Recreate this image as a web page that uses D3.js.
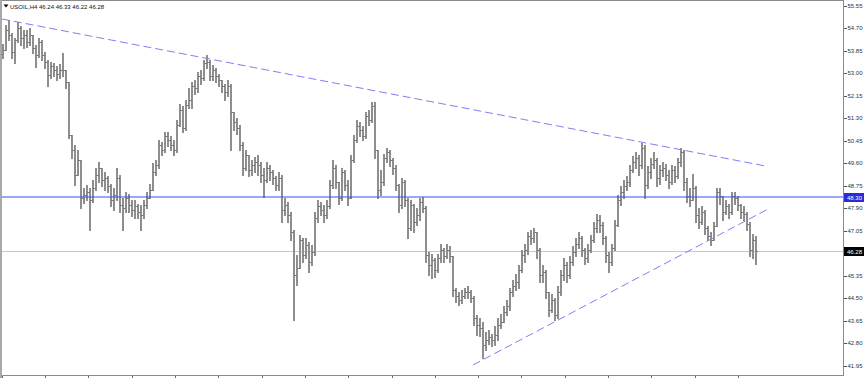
<!DOCTYPE html>
<html>
<head>
<meta charset="utf-8">
<script src="https://cdn.jsdelivr.net/npm/d3@7"></script>
<style>
  html, body { margin: 0; padding: 0; background: #fff; overflow: hidden; }
</style>
</head>
<body>
<div id="vis-display"></div>
<script>
// USOIL H4 bar chart, MetaTrader look: OHLC bars, trend lines, 48.30 level.

const SYMBOL    = "USOIL,H4";
const LAST_OHLC = [46.24, 46.33, 46.22, 46.28];

const PRICE_TICKS = [55.55, 54.70, 53.85, 53.00, 52.15, 51.30, 50.45, 49.60, 48.75,
                     47.90, 47.05, 46.20, 45.35, 44.50, 43.65, 42.80, 41.95];

// bar index of each time-axis tick (labels fall below the visible area)
const TIME_TICKS = [-0.33, 14, 28.33, 43, 57.33, 71.67, 86.33, 100.67, 115, 129.67,
                    144, 158.33, 172.67, 187.33, 201.67, 216, 230.67, 245];

const FIRST_OPEN = 53.70;

const CLOSE = [
  53.87, 54.62, 54.44, 53.79, 54.25, 54.70, 54.32, 54.44, 54.17, 54.44,
  53.95, 53.68, 54.17, 53.68, 53.42, 52.92, 53.26, 53.11, 52.96, 53.11,
  53.11, 52.66, 50.66, 50.09, 49.15, 49.71, 48.28, 48.39, 48.50, 48.20,
  48.66, 49.15, 49.41, 48.96, 49.03, 48.73, 48.20, 48.39, 49.03, 48.01,
  47.90, 48.28, 48.01, 47.83, 47.98, 47.75, 47.63, 48.01, 48.28, 48.58,
  49.26, 49.52, 50.28, 50.09, 50.62, 50.47, 50.28, 50.09, 51.04, 51.60,
  50.92, 51.79, 51.98, 52.51, 52.43, 52.89, 52.81, 53.38, 53.42, 52.89,
  53.11, 52.89, 52.74, 52.51, 52.28, 52.51, 51.53, 51.15, 50.92, 50.28,
  49.41, 49.90, 49.34, 49.52, 49.64, 49.52, 49.15, 48.96, 49.41, 49.26,
  49.03, 48.77, 49.03, 47.83, 48.01, 47.63, 46.99, 45.37, 45.63, 46.69,
  46.12, 46.50, 45.86, 46.24, 47.52, 47.98, 47.83, 47.63, 47.98, 48.77,
  49.41, 48.88, 48.28, 49.26, 48.77, 48.28, 49.71, 50.47, 51.00, 50.85,
  50.62, 51.38, 51.22, 51.75, 50.09, 48.58, 48.88, 49.79, 50.02, 49.71,
  49.41, 48.77, 48.01, 48.88, 48.20, 47.14, 48.01, 47.37, 47.63, 48.13,
  47.90, 46.12, 45.75, 45.94, 45.56, 46.01, 46.31, 46.09, 46.31, 46.09,
  44.80, 44.58, 44.42, 44.58, 44.73, 44.73, 44.50, 43.75, 43.48, 43.37,
  42.72, 42.91, 43.03, 42.91, 43.10, 43.48, 43.59, 43.97, 44.20, 44.73,
  44.95, 45.10, 45.56, 46.12, 46.31, 46.84, 46.77, 46.99, 46.31, 45.37,
  45.48, 44.73, 44.05, 44.42, 43.86, 44.73, 45.37, 45.75, 45.37, 45.86,
  46.24, 46.54, 46.77, 46.31, 46.01, 46.31, 46.69, 47.14, 47.45, 47.26,
  46.77, 46.12, 45.86, 46.39, 47.26, 48.20, 48.50, 48.73, 48.88, 49.34,
  49.64, 49.79, 49.52, 50.17, 48.77, 49.26, 49.56, 49.71, 49.03, 49.34,
  49.41, 49.15, 48.88, 49.34, 49.11, 49.64, 50.02, 48.88, 48.35, 48.20,
  48.66, 47.63, 47.37, 47.75, 47.14, 46.84, 46.69, 47.22, 48.50, 48.35,
  47.75, 47.98, 47.75, 48.35, 48.28, 48.01, 47.75, 47.67, 47.30, 46.31,
  46.69, 46.28
];

const HIGH = [
  54.10, 54.81, 55.00, 54.51, 54.32, 54.93, 54.78, 54.62, 54.62, 54.70,
  54.44, 54.06, 54.32, 54.25, 53.79, 53.49, 53.42, 53.38, 53.26, 53.34,
  53.76, 53.04, 52.59, 50.58, 50.28, 50.09, 49.52, 48.66, 48.77, 48.66,
  48.96, 49.41, 49.64, 49.34, 49.26, 49.11, 48.81, 48.66, 49.41, 49.15,
  48.28, 48.50, 48.43, 48.20, 48.20, 48.05, 48.01, 48.20, 48.50, 48.81,
  49.60, 49.71, 50.47, 50.39, 50.77, 50.77, 50.62, 50.47, 51.22, 51.83,
  51.75, 51.98, 52.43, 52.66, 52.74, 53.04, 53.11, 53.49, 53.68, 53.49,
  53.30, 53.19, 52.96, 52.74, 52.59, 52.74, 52.59, 51.41, 51.30, 51.04,
  50.39, 50.09, 49.90, 49.71, 49.83, 49.90, 49.64, 49.41, 49.64, 49.52,
  49.34, 49.11, 49.26, 49.15, 48.28, 48.13, 47.75, 47.07, 46.12, 46.88,
  46.77, 46.77, 46.62, 46.50, 47.75, 48.20, 48.13, 48.01, 48.20, 48.96,
  49.71, 49.52, 48.88, 49.41, 49.34, 48.96, 49.90, 50.66, 51.22, 51.15,
  51.00, 51.53, 51.60, 51.90, 51.90, 50.09, 49.34, 49.94, 50.17, 50.09,
  49.79, 49.52, 48.81, 49.03, 48.96, 48.28, 48.20, 48.05, 47.90, 48.28,
  48.31, 47.98, 46.24, 46.16, 46.01, 46.16, 46.54, 46.39, 46.54, 46.46,
  46.01, 44.88, 44.73, 44.80, 44.88, 44.95, 44.80, 44.58, 43.86, 43.75,
  43.59, 43.22, 43.29, 43.14, 43.44, 43.75, 43.89, 44.20, 44.42, 44.88,
  45.18, 45.41, 45.75, 46.31, 46.54, 46.99, 47.07, 47.14, 46.99, 46.39,
  45.75, 45.56, 44.73, 44.65, 44.50, 44.95, 45.56, 46.01, 45.86, 46.09,
  46.46, 46.77, 46.99, 46.84, 46.39, 46.54, 46.88, 47.37, 47.67, 47.63,
  47.37, 46.84, 46.24, 46.54, 47.45, 48.39, 48.73, 48.96, 49.11, 49.52,
  49.86, 50.02, 49.90, 50.36, 50.28, 49.49, 49.79, 50.02, 49.79, 49.52,
  49.64, 49.56, 49.34, 49.52, 49.49, 49.79, 50.17, 50.09, 49.03, 48.66,
  49.18, 48.73, 47.90, 47.98, 47.83, 47.22, 46.99, 47.37, 48.66, 48.66,
  48.28, 48.20, 48.05, 48.50, 48.50, 48.35, 48.05, 47.98, 47.75, 47.37,
  46.92, 46.84
];

const LOW = [
  53.57, 53.95, 54.25, 53.57, 53.38, 54.17, 54.06, 53.95, 53.98, 54.06,
  53.76, 53.23, 53.60, 53.49, 53.19, 52.51, 52.81, 52.89, 52.74, 52.81,
  52.89, 52.43, 50.54, 49.79, 48.77, 49.26, 47.90, 48.09, 48.20, 47.07,
  48.13, 48.58, 48.88, 48.73, 48.58, 48.50, 47.98, 47.83, 48.20, 47.75,
  47.07, 47.75, 47.75, 47.60, 47.52, 47.52, 47.07, 47.52, 47.90, 48.28,
  48.58, 49.15, 49.41, 49.90, 50.02, 50.24, 50.09, 49.90, 50.02, 51.00,
  50.77, 50.85, 51.68, 51.68, 52.21, 52.28, 52.59, 52.74, 53.19, 52.74,
  52.74, 52.66, 52.51, 52.28, 51.98, 52.13, 50.09, 50.85, 50.70, 50.09,
  49.15, 49.34, 49.11, 49.15, 49.26, 49.15, 48.88, 48.31, 48.88, 48.96,
  48.81, 48.58, 48.58, 47.37, 47.63, 47.37, 46.69, 43.67, 44.99, 45.63,
  45.86, 46.01, 45.48, 45.75, 46.12, 47.37, 47.63, 47.37, 47.52, 47.90,
  48.66, 48.66, 48.05, 48.20, 48.58, 48.01, 48.28, 49.64, 50.39, 50.62,
  50.47, 50.54, 51.04, 51.15, 49.79, 48.28, 48.39, 48.77, 49.64, 49.49,
  49.18, 48.58, 47.75, 47.90, 47.98, 46.77, 47.07, 46.99, 47.26, 47.45,
  47.75, 45.86, 45.37, 45.26, 45.29, 45.48, 45.86, 45.86, 46.01, 45.86,
  44.58, 44.35, 44.24, 44.31, 44.50, 44.50, 44.35, 43.48, 43.10, 43.06,
  42.23, 42.53, 42.76, 42.69, 42.72, 42.91, 43.37, 43.67, 43.86, 44.05,
  44.58, 44.80, 44.88, 45.48, 45.86, 46.16, 46.54, 46.62, 46.01, 45.10,
  45.10, 44.50, 43.82, 43.97, 43.67, 43.75, 44.61, 45.18, 45.10, 45.26,
  45.75, 46.09, 46.39, 46.09, 45.78, 45.86, 46.24, 46.62, 46.99, 46.99,
  46.54, 45.86, 45.48, 45.75, 46.31, 47.22, 48.01, 48.28, 48.58, 48.73,
  49.26, 49.41, 49.15, 49.41, 48.28, 48.66, 49.03, 49.41, 48.73, 48.81,
  49.11, 48.96, 48.66, 48.81, 48.88, 49.03, 49.49, 48.58, 48.13, 47.98,
  48.35, 47.37, 47.14, 47.30, 46.92, 46.69, 46.50, 46.69, 47.22, 48.05,
  47.45, 47.67, 47.52, 47.67, 48.05, 47.83, 47.52, 47.45, 47.07, 46.09,
  46.01, 45.78
];

const LEVEL_PRICE = 48.30;
// trend lines as [bar index, price] anchors
const UPPER_TREND = [[-0.33, 55.04], [254, 49.49]];
const LOWER_TREND = [[156.67, 41.97], [255.67, 47.90]];

const W = 865, H = 378;
const plot = { left: 2, right: 843, top: 0, bottom: 375 };

const BAR_COLOR   = "#8e8e8e";
const TICK_COLOR  = "#7a7a7a";
const LEVEL_COLOR = "#3550f2";
const TREND_COLOR = "#7f7ff2";
const FONT = "'Liberation Sans', Arial, sans-serif";

const N = CLOSE.length;
const bars = CLOSE.map((c, i) => {
  const o = i ? CLOSE[i - 1] : FIRST_OPEN;
  return { i, o, c, h: Math.max(HIGH[i], o, c), l: Math.min(LOW[i], o, c) };
});

const x = d3.scaleLinear().domain([0, N - 1]).range([3, 3 + 3 * (N - 1)]);
const y = d3.scaleLinear().domain([41.95, 55.55]).range([365.5, 5.5]);

const svg = d3.select("#vis-display").append("svg")
  .attr("width", W)
  .attr("height", H)
  .style("display", "block")
  .style("font-family", FONT);

// ── Frame ─────────────────────────────────────────────────────────────────

svg.append("rect")
  .attr("x", 0).attr("y", 0).attr("width", 2).attr("height", H)
  .attr("fill", "#a9a9a9");

svg.append("path")
  .attr("d", `M${plot.left},${plot.top + 0.5}H${plot.right + 0.5}V${plot.bottom + 0.5}H${plot.left}`)
  .attr("fill", "none")
  .attr("stroke", "#8a8a8a")
  .attr("shape-rendering", "crispEdges");

// ── Axes ──────────────────────────────────────────────────────────────────

svg.append("g")
  .attr("transform", `translate(${plot.right + 0.5},0)`)
  .call(d3.axisRight(y).tickValues(PRICE_TICKS).tickSize(3).tickSizeOuter(0)
    .tickFormat(d3.format(".2f")))
  .call(ax => ax.select(".domain").remove())
  .call(ax => ax.selectAll(".tick line").attr("stroke", "#555").attr("shape-rendering", "crispEdges"))
  .selectAll("text")
    .attr("x", 4)
    .style("font-family", FONT)
    .style("font-size", "6px")
    .style("fill", "#333");

svg.append("g")
  .attr("transform", `translate(0,${plot.bottom + 0.5})`)
  .call(d3.axisBottom(x).tickValues(TIME_TICKS).tickSize(3).tickSizeOuter(0).tickFormat(""))
  .call(ax => ax.select(".domain").remove())
  .call(ax => ax.selectAll(".tick line").attr("stroke", "#666").attr("shape-rendering", "crispEdges"));

// ── Horizontal levels ─────────────────────────────────────────────────────

const last = CLOSE[N - 1];

svg.append("rect")
  .attr("x", plot.left).attr("width", plot.right - plot.left)
  .attr("y", Math.round(y(last))).attr("height", 1)
  .attr("fill", "#c9c9c9");

// ── Trend lines ───────────────────────────────────────────────────────────

[UPPER_TREND, LOWER_TREND].forEach(pts => {
  svg.append("line")
    .attr("x1", x(pts[0][0])).attr("y1", y(pts[0][1]))
    .attr("x2", x(pts[1][0])).attr("y2", y(pts[1][1]))
    .attr("stroke", TREND_COLOR)
    .attr("stroke-width", 1)
    .attr("stroke-dasharray", "8,4");
});

// ── OHLC bars ─────────────────────────────────────────────────────────────

svg.append("path")
  .attr("d", bars.map(b => {
    const bx = x(b.i);
    return `M${bx},${Math.round(y(b.h))}V${Math.round(y(b.l)) + 1}`;
  }).join(""))
  .attr("fill", "none")
  .attr("stroke", BAR_COLOR)
  .attr("stroke-width", 2)
  .attr("shape-rendering", "crispEdges");

svg.append("path")
  .attr("d", bars.map(b => {
    const bx = x(b.i);
    const yo = Math.round(y(b.o)) + 0.5, yc = Math.round(y(b.c)) + 0.5;
    return `M${bx - 2},${yo}H${bx}M${bx},${yc}H${bx + 2}`;
  }).join(""))
  .attr("fill", "none")
  .attr("stroke", TICK_COLOR)
  .attr("stroke-width", 1)
  .attr("shape-rendering", "crispEdges");

// level line sits above the bars, as in the terminal
const levelY = Math.round(y(LEVEL_PRICE));
svg.append("line")
  .attr("x1", plot.left).attr("x2", plot.right)
  .attr("y1", levelY).attr("y2", levelY)
  .attr("stroke", LEVEL_COLOR)
  .attr("stroke-width", 1);

// ── Price tags on the axis ────────────────────────────────────────────────

[{ p: LEVEL_PRICE, bg: "#2b2bd9" }, { p: last, bg: "#000" }].forEach(({ p, bg }) => {
  const yy = Math.round(y(p));
  svg.append("rect")
    .attr("x", plot.right + 1).attr("y", yy - 4)
    .attr("width", 20).attr("height", 9)
    .attr("fill", bg);
  svg.append("text")
    .attr("x", plot.right + 4).attr("y", yy + 0.5)
    .attr("dy", "0.35em")
    .style("font-size", "6px")
    .style("fill", "#fff")
    .text(p.toFixed(2));
});

// ── Title ─────────────────────────────────────────────────────────────────

svg.append("path")
  .attr("d", "M3.5,4.5H8.5L6,7.5Z")
  .attr("fill", "#000");

svg.append("text")
  .attr("x", 10).attr("y", 8.5)
  .style("font-size", "6px")
  .style("fill", "#111")
  .text(`${SYMBOL}  ${LAST_OHLC.map(v => v.toFixed(2)).join(" ")}`);
</script>
</body>
</html>
